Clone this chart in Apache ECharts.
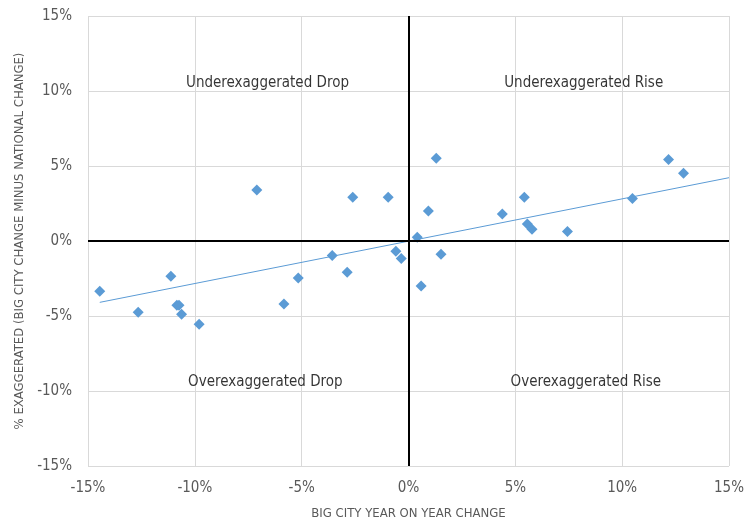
<!DOCTYPE html>
<html>
<head>
<meta charset="utf-8">
<script src="https://cdn.jsdelivr.net/npm/echarts@6/dist/echarts.min.js"></script>
<style>html,body{margin:0;padding:0;background:#fff}#c{width:754px;height:532px}</style>
</head>
<body>
<div id="c"></div>
<script>
// Big city year-on-year change (%)
var xVals = [-14.45, -12.65, -11.12, -10.84, -10.74, -10.62, -9.80, -7.10, -5.83, -5.16,
             -3.57, -2.87, -2.61, -0.95, -0.59, -0.34, 0.41, 0.59, 0.93, 1.30,
             1.52, 4.39, 5.42, 5.56, 5.78, 7.44, 10.48, 12.17, 12.87];
// % exaggerated (big city change minus national change)
var yVals = [-3.35, -4.75, -2.35, -4.29, -4.29, -4.89, -5.55, 3.40, -4.20, -2.47,
             -0.96, -2.09, 2.91, 2.91, -0.69, -1.16, 0.25, -3.00, 2.00, 5.51,
             -0.89, 1.80, 2.91, 1.13, 0.78, 0.64, 2.84, 5.44, 4.51];
// linear trendline as drawn in the reference (start / end)
var trendX = [-14.45, 15];
var trendY = [-4.09, 4.22];
var tickVals = [-15, -10, -5, 0, 5, 10, 15];
var quadLabels = ['Underexaggerated Drop', 'Underexaggerated Rise', 'Overexaggerated Drop', 'Overexaggerated Rise'];
var quadX = [-6.6, 8.2, -6.7, 8.3];
var quadY = [10.5, 10.5, -9.4, -9.4];

var FONT = "'Liberation Sans Narrow', 'DejaVu Sans Condensed', 'Roboto', sans-serif";

var trend = trendX.map(function (x, i) { return [x, trendY[i]]; });
var pts = xVals.map(function (x, i) { return [x, yVals[i]]; });
var quad = quadLabels.map(function (t, i) { return { value: [quadX[i], quadY[i]], name: t }; });

var axisCommon = {
  type: 'value', min: tickVals[0], max: tickVals[tickVals.length-1], interval: 5,
  axisLine: { show: false }, axisTick: { show: false },
  splitLine: { show: true, lineStyle: { color: '#d9d9d9', width: 1 } },
  axisLabel: { color: '#595959', fontSize: 15, fontFamily: FONT, formatter: function (v) { return v + '%'; } },
  nameTextStyle: { color: '#595959', fontSize: 13, fontFamily: FONT },
  nameLocation: 'middle'
};

var chart = echarts.init(document.getElementById('c'));
chart.setOption({
  animation: false,
  grid: { left: 88, right: 25, top: 16, bottom: 66 },
  xAxis: Object.assign({}, axisCommon, { name: 'BIG CITY YEAR ON YEAR CHANGE', nameGap: 41,
    axisLabel: Object.assign({}, axisCommon.axisLabel, { margin: 15 }) }),
  yAxis: Object.assign({}, axisCommon, { name: '% EXAGGERATED (BIG CITY CHANGE MINUS NATIONAL CHANGE)', nameGap: 55,
    axisLabel: Object.assign({}, axisCommon.axisLabel, { margin: 16 }) }),
  series: [
    {
      type: 'line', data: trend, symbol: 'none', silent: true,
      lineStyle: { color: '#5b9bd5', width: 1 }, z: 3,
      markLine: {
        silent: true, symbol: 'none', label: { show: false },
        lineStyle: { color: '#000', width: 2, type: 'solid' },
        data: [{ xAxis: 0 }, { yAxis: 0 }]
      }
    },
    {
      type: 'scatter', data: pts, symbol: 'diamond', symbolSize: 11,
      itemStyle: { color: '#5b9bd5', opacity: 1 }, z: 4
    },
    {
      type: 'scatter', data: quad, symbolSize: 0, silent: true,
      label: { show: true, position: 'inside', formatter: '{b}', color: '#000', fontSize: 15, fontFamily: FONT, textBorderWidth: 0 }
    }
  ]
});
</script>
</body>
</html>
